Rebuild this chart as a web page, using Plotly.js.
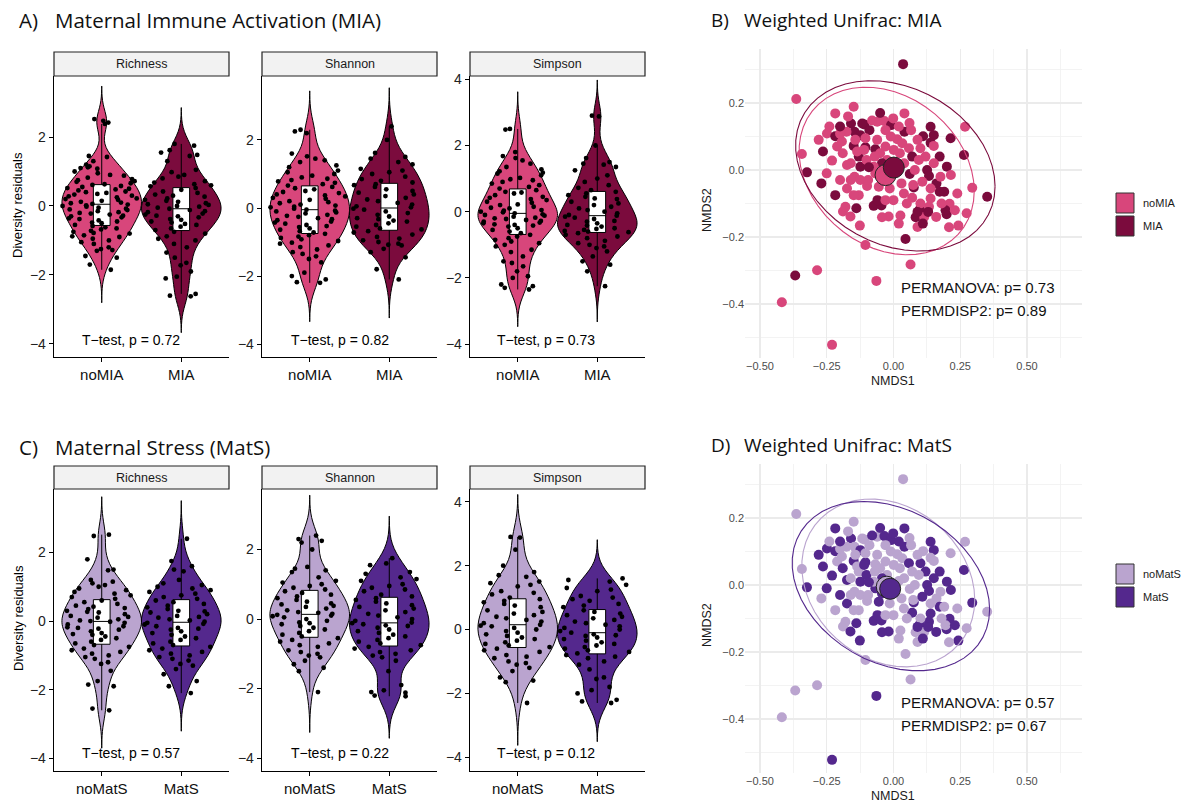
<!DOCTYPE html>
<html><head><meta charset="utf-8">
<script src="https://cdn.plot.ly/plotly-3.0.1.min.js"></script>
<style>html,body{margin:0;padding:0;background:#fff;}#chart{width:1182px;height:804px;}</style>
</head><body><div id="chart"></div>
<script>
// ---------------- DATA ----------------
const groupsMIA = ['noMIA', 'MIA'];
const groupsMatS = ['noMatS', 'MatS'];
const metrics = ['Richness', 'Shannon', 'Simpson'];
const pvalMIA = ['0.72', '0.82', '0.73'];
const pvalMatS = ['0.57', '0.22', '0.12'];
const permMIA = ['0.73', '0.89'];
const permMatS = ['0.57', '0.67'];

const richness_noMIA = [2.52,2.47,2.42,2.38,1.45,1.42,1.3,1.2,1.15,1.12,1.1,1.08,1.0,0.95,0.9,0.88,0.82,0.78,0.75,0.72,0.7,0.66,0.63,0.61,0.58,0.55,0.52,0.5,0.48,0.45,0.42,0.4,0.38,0.35,0.33,0.3,0.28,0.25,0.22,0.2,0.18,0.15,0.12,0.1,0.08,0.06,0.04,0.02,0.0,-0.02,-0.05,-0.08,-0.1,-0.12,-0.15,-0.18,-0.2,-0.22,-0.25,-0.28,-0.3,-0.33,-0.36,-0.38,-0.42,-0.45,-0.48,-0.5,-0.55,-0.58,-0.62,-0.65,-0.68,-0.72,-0.75,-0.78,-0.8,-0.85,-0.88,-0.9,-0.95,-1.0,-1.05,-1.1,-1.2,-1.25,-1.28,-1.3,-1.45,-1.5,-1.7,-1.85];
const richness_MIA = [1.8,1.75,1.62,1.55,1.48,1.45,1.3,1.05,0.98,0.9,0.85,0.8,0.72,0.68,0.63,0.6,0.57,0.52,0.47,0.42,0.38,0.33,0.3,0.27,0.22,0.18,0.15,0.12,0.08,0.05,0.03,0.0,-0.02,-0.05,-0.08,-0.12,-0.15,-0.18,-0.22,-0.25,-0.28,-0.3,-0.33,-0.38,-0.4,-0.45,-0.48,-0.52,-0.55,-0.6,-0.65,-0.7,-0.75,-0.8,-0.88,-0.95,-1.0,-1.1,-1.2,-1.35,-1.5,-1.65,-1.72,-1.9,-2.05,-2.1,-2.55,-2.6,-2.62];
const shannon_noMIA = [2.3,2.25,2.2,1.6,1.52,1.45,1.4,1.35,1.25,1.2,1.1,1.05,1.0,0.95,0.9,0.86,0.82,0.78,0.74,0.7,0.66,0.62,0.58,0.55,0.5,0.47,0.44,0.4,0.37,0.34,0.3,0.27,0.24,0.2,0.17,0.14,0.1,0.07,0.04,0.02,-0.02,-0.05,-0.08,-0.1,-0.13,-0.16,-0.2,-0.23,-0.26,-0.3,-0.33,-0.36,-0.4,-0.43,-0.46,-0.5,-0.53,-0.56,-0.6,-0.64,-0.68,-0.72,-0.76,-0.8,-0.84,-0.88,-0.92,-0.97,-1.02,-1.05,-1.1,-1.15,-1.22,-1.3,-1.35,-1.42,-1.5,-1.6,-1.9,-2.0,-2.1,-2.18,-2.2];
const shannon_MIA = [2.4,2.0,1.62,1.5,1.45,1.35,1.28,1.15,1.1,1.05,1.0,0.92,0.85,0.8,0.75,0.7,0.67,0.62,0.55,0.5,0.45,0.4,0.35,0.3,0.25,0.2,0.15,0.1,0.05,0.02,-0.02,-0.05,-0.1,-0.15,-0.2,-0.25,-0.3,-0.33,-0.37,-0.4,-0.45,-0.5,-0.55,-0.6,-0.63,-0.68,-0.72,-0.78,-0.85,-0.9,-0.95,-1.0,-1.05,-1.08,-1.1,-1.2,-1.3,-1.45,-1.8,-2.1];
const simpson_noMIA = [2.5,2.48,1.8,1.68,1.62,1.55,1.45,1.35,1.28,1.22,1.18,1.15,1.1,1.02,0.98,0.95,0.9,0.85,0.8,0.75,0.7,0.65,0.6,0.58,0.55,0.5,0.45,0.42,0.38,0.35,0.3,0.27,0.22,0.2,0.15,0.12,0.1,0.05,0.03,0.0,-0.02,-0.05,-0.08,-0.1,-0.12,-0.15,-0.18,-0.2,-0.22,-0.25,-0.28,-0.3,-0.33,-0.35,-0.38,-0.4,-0.42,-0.45,-0.5,-0.55,-0.6,-0.65,-0.7,-0.75,-0.8,-0.85,-0.9,-0.95,-1.0,-1.05,-1.15,-1.22,-1.35,-1.5,-1.55,-1.65,-1.8,-1.95,-2.0,-2.2,-2.25,-2.3,-2.35];
const simpson_MIA = [2.9,2.88,2.0,1.62,1.5,1.45,1.42,1.35,1.25,1.1,1.0,0.9,0.8,0.72,0.65,0.6,0.55,0.5,0.45,0.4,0.38,0.3,0.25,0.2,0.15,0.1,0.05,0.0,-0.05,-0.1,-0.12,-0.15,-0.18,-0.22,-0.28,-0.3,-0.35,-0.4,-0.42,-0.45,-0.5,-0.52,-0.55,-0.58,-0.6,-0.62,-0.65,-0.7,-0.75,-0.8,-0.88,-0.95,-1.0,-1.05,-1.1,-1.2,-1.35,-1.5,-1.6,-1.8,-2.25];

const richness_noMatS = [2.52,2.48,1.8,1.5,1.48,1.2,1.15,1.1,1.05,1.0,0.95,0.9,0.85,0.8,0.75,0.7,0.65,0.6,0.55,0.5,0.45,0.42,0.38,0.35,0.3,0.27,0.25,0.2,0.15,0.12,0.1,0.05,0.02,0.0,-0.02,-0.05,-0.1,-0.15,-0.18,-0.2,-0.22,-0.25,-0.3,-0.35,-0.38,-0.4,-0.45,-0.5,-0.55,-0.6,-0.65,-0.7,-0.75,-0.8,-0.85,-0.9,-0.95,-1.0,-1.05,-1.1,-1.2,-1.25,-1.45,-1.75,-1.85,-1.9,-2.55,-2.6];
const richness_MatS = [2.4,1.75,1.6,1.5,1.45,1.2,1.1,1.05,1.0,0.95,0.9,0.85,0.8,0.75,0.7,0.65,0.6,0.55,0.5,0.45,0.4,0.35,0.3,0.28,0.25,0.2,0.15,0.12,0.1,0.05,0.02,-0.02,-0.05,-0.08,-0.1,-0.15,-0.2,-0.22,-0.25,-0.3,-0.35,-0.4,-0.45,-0.5,-0.55,-0.6,-0.65,-0.7,-0.75,-0.8,-0.85,-0.9,-0.95,-1.0,-1.05,-1.1,-1.15,-1.25,-1.3,-1.4,-1.55,-1.75,-1.9,-2.1];
const shannon_noMatS = [2.4,2.3,2.25,2.2,2.0,1.5,1.45,1.4,1.35,1.2,1.1,1.05,1.0,0.95,0.9,0.85,0.8,0.75,0.7,0.65,0.6,0.55,0.5,0.45,0.42,0.38,0.35,0.3,0.25,0.2,0.18,0.15,0.12,0.1,0.08,0.05,0.0,-0.05,-0.1,-0.12,-0.15,-0.2,-0.25,-0.3,-0.35,-0.4,-0.45,-0.5,-0.55,-0.6,-0.65,-0.7,-0.75,-0.8,-0.9,-0.95,-1.0,-1.05,-1.1,-1.2,-1.3,-1.4,-1.5,-2.1];
const shannon_MatS = [1.75,1.6,1.55,1.35,1.3,1.2,1.15,1.1,1.0,0.95,0.9,0.85,0.8,0.7,0.65,0.6,0.55,0.5,0.45,0.4,0.35,0.3,0.25,0.2,0.15,0.1,0.05,0.0,-0.05,-0.1,-0.12,-0.15,-0.18,-0.2,-0.25,-0.3,-0.35,-0.4,-0.45,-0.5,-0.55,-0.6,-0.65,-0.7,-0.75,-0.8,-0.85,-0.9,-0.95,-1.0,-1.05,-1.1,-1.2,-1.5,-1.9,-2.05,-2.1,-2.12,-2.2,-2.22];
const simpson_noMatS = [2.9,2.88,2.5,2.0,1.8,1.7,1.65,1.5,1.45,1.4,1.35,1.2,1.15,1.1,1.0,0.95,0.9,0.85,0.8,0.75,0.7,0.6,0.55,0.5,0.45,0.4,0.35,0.3,0.25,0.2,0.15,0.12,0.1,0.05,0.0,-0.05,-0.1,-0.15,-0.2,-0.25,-0.3,-0.35,-0.4,-0.45,-0.5,-0.55,-0.6,-0.65,-0.7,-0.8,-0.85,-0.9,-1.0,-1.05,-1.1,-1.2,-1.3,-1.5,-1.6,-1.65,-2.3];
const simpson_MatS = [1.6,1.55,1.5,1.4,1.3,1.25,1.2,1.05,1.0,0.95,0.9,0.8,0.75,0.7,0.6,0.55,0.5,0.45,0.4,0.35,0.3,0.25,0.2,0.15,0.1,0.05,0.0,-0.05,-0.1,-0.15,-0.18,-0.2,-0.25,-0.3,-0.35,-0.4,-0.45,-0.5,-0.55,-0.6,-0.65,-0.7,-0.75,-0.8,-0.85,-0.9,-1.0,-1.1,-1.25,-1.5,-1.55,-1.8,-1.9,-2.0,-2.2,-2.25,-2.3];

// NMDS ordination (same samples in B and D)
const nmds1 = [0.036,-0.364,-0.149,-0.218,-0.343,-0.324,-0.264,-0.249,-0.218,-0.23,-0.27,-0.218,-0.174,-0.174,-0.189,-0.161,-0.126,-0.105,-0.13,-0.139,-0.064,-0.368,-0.286,-0.418,-0.23,0.064,0.045,0.351,0.295,0.264,0.268,0.214,0.274,0.243,0.208,0.199,0.239,0.21,0.2,0.173,
  0.139,0.151,0.111,0.139,0.12,0.126,0.133,0.161,0.173,0.099,0.083,0.076,0.07,0.026,-0.018,-0.043,-0.074,-0.045,-0.014,-0.055,-0.099,-0.146,-0.124,-0.13,-0.149,-0.136,-0.105,-0.068,-0.159,-0.146,-0.124,-0.109,-0.09,-0.061,-0.034,-0.009,-0.001,0.041,0.041,-0.03,
  -0.061,-0.105,-0.176,-0.101,-0.068,-0.124,-0.095,-0.043,0.014,0.033,0.066,0.058,0.07,0.101,0.151,0.095,0.151,0.061,0.074,0.108,0.139,0.139,0.176,0.215,0.19,0.133,0.115,0.101,0.039,0.001,-0.024,0.024,-0.043,-0.074,-0.092,-0.211,-0.193,-0.143,0.001,0.02,
  -0.149,-0.18,-0.117,-0.06,0.09,0.13,0.195,-0.2,-0.08,-0.01,0.02,0.09,-0.05,-0.17,-0.24,-0.28,0.23,0.18,0.16,0.09,0.05,-0.03,0.02,-0.16,-0.2,-0.25,-0.19,-0.16,-0.05,0.04,0.08,0.11,0.03,-0.02,-0.11,-0.07,0.06,-0.03,0.0,-0.2];
const nmds2 = [0.316,0.212,0.189,0.169,0.048,-0.007,0.055,0.109,0.101,0.028,-0.04,-0.075,-0.055,0.015,-0.124,-0.139,-0.166,-0.224,-0.075,-0.114,-0.331,-0.315,-0.299,-0.395,-0.522,-0.282,-0.206,-0.08,-0.053,0.045,0.129,0.095,-0.129,-0.166,-0.171,-0.132,-0.07,-0.101,0.01,0.04,
  0.129,0.104,0.101,0.081,0.04,0.0,-0.018,-0.04,-0.065,-0.117,-0.141,-0.052,-0.083,-0.136,-0.139,-0.141,-0.107,-0.106,-0.055,-0.05,-0.048,-0.02,0.01,0.04,0.072,0.055,0.068,0.062,0.139,0.114,0.104,0.136,0.119,0.144,0.146,0.134,0.154,0.169,0.114,0.119,
  0.09,0.095,0.114,0.03,-0.01,-0.03,-0.03,-0.025,0.092,0.08,0.119,0.065,0.04,0.065,0.072,0.03,0.02,-0.012,-0.045,-0.035,-0.055,-0.085,-0.02,-0.015,-0.065,-0.11,-0.14,-0.1,-0.07,-0.01,0.03,0.05,0.02,0.01,0.008,0.07,0.085,0.09,0.06,0.012,
  -0.075,-0.11,0.139,-0.09,-0.125,-0.125,-0.12,0.108,0.148,0.1,0.13,0.09,0.17,0.16,0.13,0.09,-0.12,-0.1,-0.14,-0.17,-0.1,-0.09,-0.16,-0.03,-0.03,-0.01,0.05,0.02,0.05,0.02,0.0,-0.16,-0.04,-0.02,0.06,0.04,0.14,0.07,-0.09,0.13];
const isMIA = [1,0,0,0,0,1,1,0,1,0,1,1,0,0,0,0,0,0,0,1,0,1,0,0,0,0,1,1,0,1,0,1,0,0,0,1,0,0,1,1,
  1,1,1,1,0,1,1,1,1,1,1,1,0,0,0,0,1,1,0,0,0,0,1,1,1,0,1,1,1,1,1,1,1,0,0,1,0,0,1,0,
  0,0,0,0,0,0,0,0,0,0,0,0,1,0,0,0,0,1,0,0,0,0,0,0,1,0,0,0,0,0,0,0,1,0,1,0,0,0,0,0,
  0,0,1,1,1,1,1,0,0,0,0,0,1,0,0,0,0,0,0,0,0,0,0,0,0,0,0,0,0,0,0,1,0,0,0,0,0,0,0,1];
const isMatS = [0,0,0,1,0,1,1,1,1,1,0,0,1,1,0,1,1,0,0,1,1,0,0,0,1,0,0,0,1,1,0,0,0,1,0,1,0,1,1,1,
  1,1,0,0,1,1,1,0,1,1,0,1,1,0,1,1,1,1,0,1,0,0,1,0,1,0,1,0,1,0,1,0,0,0,1,1,1,1,1,0,
  0,0,0,1,1,0,0,1,0,0,0,1,0,1,0,0,1,0,0,1,0,1,0,1,0,1,0,0,0,0,0,0,1,0,1,0,0,0,0,0,
  0,0,0,1,1,1,0,0,1,0,1,0,1,0,0,1,1,0,1,0,0,0,0,0,1,1,1,0,0,0,0,1,0,0,1,0,0,0,0,1];

// ---------------- STYLE / LAYOUT HELPERS ----------------
const W = 1182, H = 804;
const px = x => x / W;
const py = y => 1 - y / H;
const colMIA = ['#D8467B', '#7B0B3D'];
const colMatS = ['#BAA4CF', '#54288D'];
const TICKFONT = 'Liberation Sans, Arial, sans-serif';
const TITLEFONT = 'Open Sans, Liberation Sans, sans-serif';

function quantile(sorted, q) {
  const pos = (sorted.length - 1) * q, lo = Math.floor(pos), hi = Math.ceil(pos);
  return sorted[lo] + (sorted[hi] - sorted[lo]) * (pos - lo);
}
function nrd0(v) {
  const s = v.slice().sort((a, b) => a - b), n = s.length;
  const m = s.reduce((a, b) => a + b, 0) / n;
  const sd = Math.sqrt(s.reduce((a, b) => a + (b - m) * (b - m), 0) / (n - 1));
  const iqr = quantile(s, 0.75) - quantile(s, 0.25);
  return 0.9 * Math.min(sd, iqr / 1.34) * Math.pow(n, -0.2);
}

const violinData = {
  A: [[richness_noMIA, richness_MIA], [shannon_noMIA, shannon_MIA], [simpson_noMIA, simpson_MIA]],
  C: [[richness_noMatS, richness_MatS], [shannon_noMatS, shannon_MatS], [simpson_noMatS, simpson_MatS]]
};
const rows = {
  A: {stripTop: 52, top: 76, bottom: 357, cats: groupsMIA, cols: colMIA, pv: pvalMIA, ttestY: 340,
      yr: [[-4.38, 3.77], [-4.38, 3.88], [-4.39, 4.10]], yTitle: 205},
  C: {stripTop: 466, top: 489, bottom: 771, cats: groupsMatS, cols: colMatS, pv: pvalMatS, ttestY: 753,
      yr: [[-4.37, 3.85], [-4.37, 3.74], [-4.43, 4.40]], yTitle: 618}
};
const colsX = [[54, 229], [262, 437], [470, 645]];
const ttestX = [131, 340, 546];

const traces = [];
const layout = {
  width: W, height: H, margin: {l: 0, r: 0, t: 0, b: 0}, paper_bgcolor: '#fff', plot_bgcolor: 'rgba(0,0,0,0)',
  showlegend: false, violinmode: 'overlay', annotations: [], shapes: [],
  font: {family: TICKFONT, color: '#000'}
};

let axN = 0;
['A', 'C'].forEach(rk => {
  const r = rows[rk];
  for (let m = 0; m < 3; m++) {
    axN++;
    const xa = 'x' + (axN === 1 ? '' : axN), ya = 'y' + (axN === 1 ? '' : axN);
    const xk = 'xaxis' + (axN === 1 ? '' : axN), yk = 'yaxis' + (axN === 1 ? '' : axN);
    layout[xk] = {
      domain: [px(colsX[m][0]), px(colsX[m][1])], anchor: ya, type: 'category',
      categoryarray: r.cats, categoryorder: 'array', range: [-0.6, 1.6],
      showline: true, linecolor: '#000', linewidth: 1.3, mirror: false,
      ticks: 'outside', ticklen: 4, tickwidth: 1, tickcolor: '#000',
      tickfont: {family: TICKFONT, size: 15, color: '#111'}, showgrid: false, zeroline: false, fixedrange: true
    };
    layout[yk] = {
      domain: [py(r.bottom), py(r.top)], anchor: xa, range: r.yr[m], dtick: 2, tick0: 0,
      showline: true, linecolor: '#000', linewidth: 1.3,
      ticks: 'outside', ticklen: 4, tickwidth: 1, tickcolor: '#000',
      tickfont: {family: TICKFONT, size: 14, color: '#222'}, showgrid: false, zeroline: false, fixedrange: true
    };
    for (let g = 0; g < 2; g++) {
      const v = violinData[rk][m][g];
      const bw = nrd0(v);
      const mn = Math.min(...v), mx = Math.max(...v);
      traces.push({
        type: 'violin', x0: r.cats[g], y: v, xaxis: xa, yaxis: ya, name: r.cats[g],
        fillcolor: r.cols[g], line: {color: '#000', width: 1}, width: 1.0,
        bandwidth: bw, spanmode: 'manual', span: [mn - 3 * bw, mx + 3 * bw], scalemode: 'width',
        points: 'all', jitter: 1, pointpos: 0,
        marker: {color: '#000', size: 4.8, line: {width: 0}},
        box: {visible: true, width: 0.21, fillcolor: '#fff', line: {color: '#000', width: 1}},
        meanline: {visible: false}, hoverinfo: 'y', showlegend: false
      });
    }
    layout.shapes.push({type: 'rect', xref: 'paper', yref: 'paper', x0: px(colsX[m][0]), x1: px(colsX[m][1]),
      y0: py(r.top), y1: py(r.stripTop), fillcolor: '#F2F2F2', line: {color: '#222', width: 1.2}, layer: 'below'});
    layout.annotations.push({xref: 'paper', yref: 'paper', x: px((colsX[m][0] + colsX[m][1]) / 2), y: py((r.top + r.stripTop) / 2),
      text: metrics[m], showarrow: false, xanchor: 'center', yanchor: 'middle', font: {family: TICKFONT, size: 12.5, color: '#1a1a1a'}});
    layout.annotations.push({xref: 'paper', yref: 'paper', x: px(ttestX[m]), y: py(r.ttestY),
      text: 'T\u2212test, p = ' + r.pv[m], showarrow: false, xanchor: 'center', yanchor: 'middle', font: {family: TICKFONT, size: 14, color: '#000'}});
  }
  layout.annotations.push({xref: 'paper', yref: 'paper', x: px(18), y: py(r.yTitle), text: 'Diversity residuals', textangle: -90,
    showarrow: false, xanchor: 'center', yanchor: 'middle', font: {family: 'Liberation Sans Narrow, Liberation Sans, Arial, sans-serif', size: 13, color: '#000'}});
});

// ---- NMDS panels ----
function trobEllipse(xs, ys, level) {
  const n = xs.length, nu = 5, p = 2;
  let lx = xs.reduce((a, b) => a + b, 0) / n, ly = ys.reduce((a, b) => a + b, 0) / n;
  let w = new Array(n).fill(1);
  for (let it = 0; it < 100; it++) {
    const w0 = w.slice();
    const sw = w.reduce((a, b) => a + b, 0);
    let sxx = 0, sxy = 0, syy = 0;
    for (let i = 0; i < n; i++) { const dx = xs[i] - lx, dy = ys[i] - ly; sxx += w[i] / sw * dx * dx; sxy += w[i] / sw * dx * dy; syy += w[i] / sw * dy * dy; }
    const det = sxx * syy - sxy * sxy;
    const ixx = syy / det, iyy = sxx / det, ixy = -sxy / det;
    for (let i = 0; i < n; i++) { const dx = xs[i] - lx, dy = ys[i] - ly; const Q = dx * dx * ixx + 2 * dx * dy * ixy + dy * dy * iyy; w[i] = (nu + p) / (nu + Q); }
    const sw2 = w.reduce((a, b) => a + b, 0);
    let nx = 0, ny = 0; for (let i = 0; i < n; i++) { nx += w[i] * xs[i]; ny += w[i] * ys[i]; }
    lx = nx / sw2; ly = ny / sw2;
    let dmax = 0; for (let i = 0; i < n; i++) dmax = Math.max(dmax, Math.abs(w[i] - w0[i]));
    if (dmax < 1e-5) break;
  }
  let cxx = 0, cxy = 0, cyy = 0;
  for (let i = 0; i < n; i++) { const dx = xs[i] - lx, dy = ys[i] - ly; cxx += w[i] * dx * dx; cxy += w[i] * dx * dy; cyy += w[i] * dy * dy; }
  cxx /= n; cxy /= n; cyy /= n;
  const a = Math.sqrt(cxx), b = cxy / a, c = Math.sqrt(cyy - b * b);
  const d = n - 1;
  const F = (d / 2) * (Math.pow(1 - level, -2 / d) - 1);
  const rad = Math.sqrt(2 * F);
  const ex = [], ey = [];
  for (let k = 0; k <= 51; k++) {
    const t = 2 * Math.PI * k / 51;
    ex.push(lx + rad * Math.cos(t) * a);
    ey.push(ly + rad * (Math.cos(t) * b + Math.sin(t) * c));
  }
  return [ex, ey];
}

const nmdsPanels = [
  {grp: isMIA, names: groupsMIA, cols: colMIA, perm: permMIA, zeroY: 170, titleY: 20, tag: 'B)', title: 'Weighted Unifrac: MIA', legY: [203, 226]},
  {grp: isMatS, names: groupsMatS, cols: colMatS, perm: permMatS, zeroY: 585, titleY: 445, tag: 'D)', title: 'Weighted Unifrac: MatS', legY: [574, 597]}
];
const yPxPerUnit = 335;
const nYr = [-0.56, 0.36];
nmdsPanels.forEach(P => {
  axN++;
  const xa = 'x' + axN, ya = 'y' + axN;
  const top = P.zeroY - nYr[1] * yPxPerUnit, bottom = P.zeroY - nYr[0] * yPxPerUnit;
  layout['xaxis' + axN] = {
    domain: [px(745), px(1082)], anchor: ya, range: [-0.556, 0.706],
    tickmode: 'array', tickvals: [-0.5, -0.25, 0, 0.25, 0.5], tickformat: '.2f',
    showgrid: true, gridcolor: '#EBEBEB', gridwidth: 1.1,
    minor: {tickmode: 'array', tickvals: [-0.375, -0.125, 0.125, 0.375, 0.625], showgrid: true, gridcolor: '#F0F0F0', gridwidth: 0.8},
    showline: false, zeroline: false, ticks: '', tickfont: {family: TICKFONT, size: 11, color: '#4D4D4D'}, fixedrange: true
  };
  layout['yaxis' + axN] = {
    domain: [py(bottom), py(top)], anchor: xa, range: nYr,
    tickmode: 'array', tickvals: [-0.4, -0.2, 0, 0.2], tickformat: '.1f',
    showgrid: true, gridcolor: '#EBEBEB', gridwidth: 1.1,
    minor: {tickmode: 'array', tickvals: [-0.5, -0.3, -0.1, 0.1, 0.3], showgrid: true, gridcolor: '#F0F0F0', gridwidth: 0.8},
    showline: false, zeroline: false, ticks: '', tickfont: {family: TICKFONT, size: 11, color: '#4D4D4D'}, fixedrange: true
  };
  traces.push({type: 'scatter', mode: 'markers', x: nmds1, y: nmds2, xaxis: xa, yaxis: ya,
    marker: {size: 10, color: P.grp.map(g => P.cols[g]), line: {width: 0}}, hoverinfo: 'x+y', showlegend: false, cliponaxis: false});
  [0, 1].forEach(g => {
    const xs = [], ys = [];
    for (let i = 0; i < nmds1.length; i++) if (P.grp[i] === g) { xs.push(nmds1[i]); ys.push(nmds2[i]); }
    const [ex, ey] = trobEllipse(xs, ys, 0.95);
    traces.push({type: 'scatter', mode: 'lines', x: ex, y: ey, xaxis: xa, yaxis: ya, line: {color: P.cols[g], width: 1.1}, hoverinfo: 'skip', showlegend: false});
  });
  [0, 1].forEach(g => {
    const xs = [], ys = [];
    for (let i = 0; i < nmds1.length; i++) if (P.grp[i] === g) { xs.push(nmds1[i]); ys.push(nmds2[i]); }
    const mx = xs.reduce((a, b) => a + b, 0) / xs.length, my = ys.reduce((a, b) => a + b, 0) / ys.length;
    traces.push({type: 'scatter', mode: 'markers', x: [mx], y: [my], xaxis: xa, yaxis: ya,
      marker: {size: 21, color: P.cols[g], line: {color: '#222', width: 1}}, hoverinfo: 'x+y', showlegend: false});
  });
  layout.annotations.push({xref: 'paper', yref: 'paper', x: px(899), y: py(P.zeroY + 117), text: 'PERMANOVA: p= ' + P.perm[0], showarrow: false,
    xanchor: 'left', yanchor: 'middle', font: {family: TICKFONT, size: 15, color: '#111'}});
  layout.annotations.push({xref: 'paper', yref: 'paper', x: px(899), y: py(P.zeroY + 140), text: 'PERMDISP2: p= ' + P.perm[1], showarrow: false,
    xanchor: 'left', yanchor: 'middle', font: {family: TICKFONT, size: 15, color: '#111'}});
  layout.annotations.push({xref: 'paper', yref: 'paper', x: px(893), y: py(bottom + 23), text: 'NMDS1', showarrow: false,
    xanchor: 'center', yanchor: 'middle', font: {family: TICKFONT, size: 12.5, color: '#1a1a1a'}});
  layout.annotations.push({xref: 'paper', yref: 'paper', x: px(707), y: py(P.zeroY + 40), text: 'NMDS2', textangle: -90, showarrow: false,
    xanchor: 'center', yanchor: 'middle', font: {family: TICKFONT, size: 12.5, color: '#1a1a1a'}});
  layout.annotations.push({xref: 'paper', yref: 'paper', x: px(709), y: py(P.titleY), text: P.tag, showarrow: false,
    xanchor: 'left', yanchor: 'middle', font: {family: TITLEFONT, size: 19, color: '#111'}});
  layout.annotations.push({xref: 'paper', yref: 'paper', x: px(742), y: py(P.titleY), text: P.title, showarrow: false,
    xanchor: 'left', yanchor: 'middle', font: {family: TITLEFONT, size: 19, color: '#111'}});
  [0, 1].forEach(g => {
    const cy = P.legY[g];
    layout.shapes.push({type: 'rect', xref: 'paper', yref: 'paper', x0: px(1116), x1: px(1134), y0: py(cy + 10), y1: py(cy - 10),
      fillcolor: P.cols[g], line: {color: '#333', width: 1}});
    layout.annotations.push({xref: 'paper', yref: 'paper', x: px(1141), y: py(cy), text: P.names[g], showarrow: false,
      xanchor: 'left', yanchor: 'middle', font: {family: TICKFONT, size: 11, color: '#1a1a1a'}});
  });
});

[['A)', 'Maternal Immune Activation (MIA)', 20], ['C)', 'Maternal Stress (MatS)', 447]].forEach(t => {
  layout.annotations.push({xref: 'paper', yref: 'paper', x: px(17), y: py(t[2]), text: t[0], showarrow: false,
    xanchor: 'left', yanchor: 'middle', font: {family: TITLEFONT, size: 20.5, color: '#111'}});
  layout.annotations.push({xref: 'paper', yref: 'paper', x: px(53), y: py(t[2]), text: t[1], showarrow: false,
    xanchor: 'left', yanchor: 'middle', font: {family: TITLEFONT, size: 20.5, color: '#111'}});
});

Plotly.newPlot('chart', traces, layout, {staticPlot: true, displayModeBar: false});
</script></body></html>
